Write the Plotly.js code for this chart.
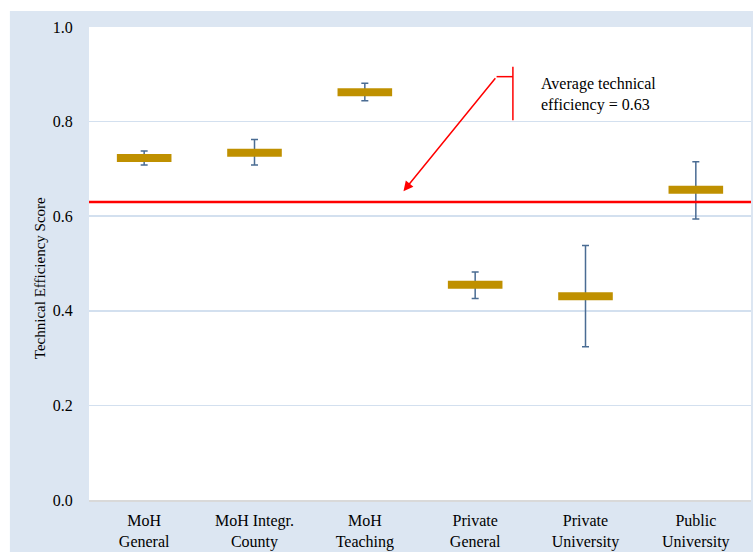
<!DOCTYPE html>
<html>
<head>
<meta charset="utf-8">
<script src="https://cdn.plot.ly/plotly-3.0.1.min.js"></script>
<style>
  html, body { margin: 0; padding: 0; background: #ffffff; }
  #chart { width: 753px; height: 552px; }
</style>
</head>
<body>
<div id="chart"></div>
<script>
// Hospital categories (two-line tick labels)
const categories = [
  "MoH<br>General",
  "MoH Integr.<br>County",
  "MoH<br>Teaching",
  "Private<br>General",
  "Private<br>University",
  "Public<br>University"
];

// Mean technical efficiency score per category
const meanScores = [0.723, 0.734, 0.862, 0.455, 0.431, 0.656];
// Upper and lower ends of the interval around each mean
const upperBounds = [0.738, 0.762, 0.881, 0.482, 0.538, 0.715];
const lowerBounds = [0.708, 0.708, 0.844, 0.426, 0.324, 0.594];

// Overall average across all hospitals
const avgEfficiency = 0.63;

const yTickValues = [0, 0.2, 0.4, 0.6, 0.8, 1.0];
const yTickLabels = ["0.0", "0.2", "0.4", "0.6", "0.8", "1.0"];

const serif = "'Liberation Serif', 'Times New Roman', serif";
const xIdx = categories.map((_, i) => i);

const trace = {
  type: "scatter",
  mode: "markers",
  x: xIdx,
  y: meanScores,
  marker: {
    symbol: "line-ew",
    size: 39,
    color: "#bf9000",
    line: { color: "#bf9000", width: 8 }
  },
  error_y: {
    type: "data",
    symmetric: false,
    array: upperBounds.map((u, i) => u - meanScores[i]),
    arrayminus: meanScores.map((m, i) => m - lowerBounds[i]),
    color: "#4a6c93",
    thickness: 1.5,
    width: 3.5
  },
  hoverinfo: "skip",
  showlegend: false
};

const layout = {
  width: 753,
  height: 552,
  margin: { l: 89, r: 2, t: 27, b: 52 },
  paper_bgcolor: "#dce6f2",
  plot_bgcolor: "#ffffff",
  font: { family: serif, size: 16, color: "#000000" },
  showlegend: false,
  xaxis: {
    range: [-0.5, 5.5],
    tickmode: "array",
    tickvals: xIdx,
    ticktext: categories,
    ticks: "outside",
    ticklen: 5,
    tickcolor: "rgba(0,0,0,0)",
    showgrid: false,
    zeroline: false,
    showline: true,
    linecolor: "#d9d9d9",
    linewidth: 1.5,
    tickfont: { family: serif, size: 16, color: "#000000" },
    fixedrange: true
  },
  yaxis: {
    range: [0, 1.0],
    tickmode: "array",
    tickvals: yTickValues,
    ticktext: yTickLabels,
    ticks: "outside",
    ticklen: 12,
    tickcolor: "rgba(0,0,0,0)",
    showgrid: true,
    gridcolor: "#d3e0ef",
    gridwidth: 1.5,
    zeroline: false,
    showline: false,
    tickfont: { family: serif, size: 16, color: "#000000" },
    fixedrange: true
  },
  shapes: [
    // white strips framing the shaded chart area
    { type: "rect", xref: "paper", yref: "paper", x0: -0.2, x1: -0.1195, y0: -0.2, y1: 1.2,
      fillcolor: "#ffffff", line: { width: 0 }, layer: "below" },
    { type: "rect", xref: "paper", yref: "paper", x0: -0.2, x1: 1.1, y0: 1.0338, y1: 1.2,
      fillcolor: "#ffffff", line: { width: 0 }, layer: "below" },
    // overall average line
    { type: "line", xref: "paper", yref: "y", x0: 0, x1: 1, y0: avgEfficiency, y1: avgEfficiency,
      line: { color: "#ff0000", width: 2.5 } },
    // callout bracket
    { type: "line", xref: "x", yref: "y", x0: 3.194, x1: 3.342, y0: 0.895, y1: 0.895,
      line: { color: "#ff0000", width: 1.5 } },
    { type: "line", xref: "x", yref: "y", x0: 3.342, x1: 3.342, y0: 0.803, y1: 0.916,
      line: { color: "#ff0000", width: 1.5 } }
  ],
  annotations: [
    // arrow from the callout down to the average line
    { xref: "x", yref: "y", x: 2.35, y: avgEfficiency + 0.023,
      axref: "x", ayref: "y", ax: 3.194, ay: 0.895,
      text: "", showarrow: true, arrowhead: 2, arrowsize: 1.3, arrowwidth: 1.5,
      arrowcolor: "#ff0000", standoff: 0 },
    { xref: "x", yref: "y", x: 3.58, y: 0.857, xanchor: "left", yanchor: "middle",
      align: "left", showarrow: false,
      text: "Average technical<br>efficiency = " + avgEfficiency.toFixed(2),
      font: { family: serif, size: 16, color: "#000000" } },
    // y-axis title
    { xref: "paper", yref: "paper", x: -0.074, y: 0.469, xanchor: "center", yanchor: "middle",
      textangle: -90, showarrow: false, text: "Technical Efficiency Score",
      font: { family: serif, size: 15, color: "#000000" } }
  ]
};

Plotly.newPlot("chart", [trace], layout, { displayModeBar: false, staticPlot: true });
</script>
</body>
</html>
